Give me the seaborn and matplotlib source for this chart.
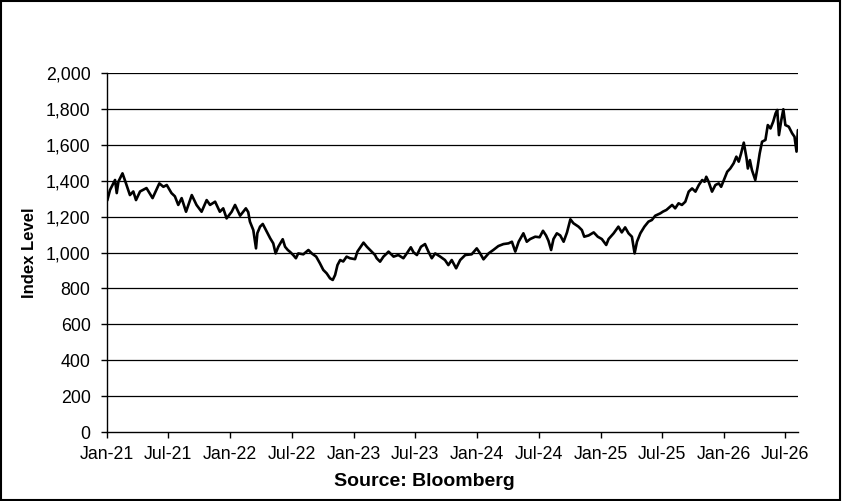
import pandas as pd
import matplotlib
matplotlib.use("Agg")
import matplotlib.pyplot as plt
import matplotlib.dates as mdates
from matplotlib.ticker import FuncFormatter, MultipleLocator
from matplotlib.patches import Rectangle
import seaborn as sns

# values (approximate)
dates = [
    "2021-01-02", "2021-01-10", "2021-01-25", "2021-01-30", "2021-02-04", "2021-02-16",
    "2021-02-26", "2021-03-10", "2021-03-20", "2021-03-28", "2021-04-09", "2021-04-28",
    "2021-05-16", "2021-06-05", "2021-06-17", "2021-06-27", "2021-07-11", "2021-07-21",
    "2021-07-31", "2021-08-10", "2021-08-23", "2021-09-09", "2021-09-23", "2021-10-08",
    "2021-10-23", "2021-11-02", "2021-11-17", "2021-12-01", "2021-12-11", "2021-12-21",
    "2022-01-05", "2022-01-15", "2022-01-30", "2022-02-16", "2022-02-23", "2022-02-28",
    "2022-03-10", "2022-03-18", "2022-03-22", "2022-03-30", "2022-04-07", "2022-04-19",
    "2022-04-29", "2022-05-08", "2022-05-15", "2022-05-23", "2022-06-05", "2022-06-12",
    "2022-06-20", "2022-06-27", "2022-07-06", "2022-07-14", "2022-07-21", "2022-08-05",
    "2022-08-20", "2022-08-30", "2022-09-12", "2022-09-23", "2022-10-03", "2022-10-13",
    "2022-10-23", "2022-10-31", "2022-11-07", "2022-11-14", "2022-11-22", "2022-12-01",
    "2022-12-11", "2022-12-21",
    "2023-01-05", "2023-01-12", "2023-01-30", "2023-02-09", "2023-02-23", "2023-03-05",
    "2023-03-10", "2023-03-20", "2023-03-30", "2023-04-09", "2023-04-14", "2023-04-29",
    "2023-05-13", "2023-05-28", "2023-06-07", "2023-06-19", "2023-06-27", "2023-07-07",
    "2023-07-19", "2023-07-31", "2023-08-10", "2023-08-20", "2023-08-30", "2023-09-14",
    "2023-09-28", "2023-10-08", "2023-10-18", "2023-10-31", "2023-11-12", "2023-11-27",
    "2023-12-16", "2023-12-31",
    "2024-01-10", "2024-01-20", "2024-02-04", "2024-02-18", "2024-03-04", "2024-03-19",
    "2024-04-03", "2024-04-13", "2024-04-23", "2024-05-03", "2024-05-17", "2024-05-27",
    "2024-06-06", "2024-06-21", "2024-07-04", "2024-07-14", "2024-07-23", "2024-07-30",
    "2024-08-07", "2024-08-14", "2024-08-24", "2024-09-03", "2024-09-13", "2024-09-23",
    "2024-10-03", "2024-10-12", "2024-10-27", "2024-11-06", "2024-11-13", "2024-11-26",
    "2024-12-11", "2024-12-23",
    "2025-01-04", "2025-01-17", "2025-01-24", "2025-02-08", "2025-02-22", "2025-03-04",
    "2025-03-14", "2025-03-24", "2025-04-03", "2025-04-11", "2025-04-18", "2025-04-28",
    "2025-05-10", "2025-05-22", "2025-06-01", "2025-06-11", "2025-06-26", "2025-07-04",
    "2025-07-14", "2025-07-31", "2025-08-09", "2025-08-19", "2025-08-29", "2025-09-08",
    "2025-09-18", "2025-09-28", "2025-10-08", "2025-10-18", "2025-10-28", "2025-11-04",
    "2025-11-09", "2025-11-16", "2025-11-26", "2025-12-06", "2025-12-16", "2025-12-23",
    "2025-12-31",
    "2026-01-10", "2026-01-19", "2026-01-29", "2026-02-06", "2026-02-13", "2026-02-20",
    "2026-02-28", "2026-03-08", "2026-03-12", "2026-03-18", "2026-03-24", "2026-04-03",
    "2026-04-10", "2026-04-16", "2026-04-23", "2026-05-03", "2026-05-10", "2026-05-18",
    "2026-05-26", "2026-06-02", "2026-06-07", "2026-06-12", "2026-06-19", "2026-06-25",
    "2026-07-01", "2026-07-11", "2026-07-21", "2026-07-28", "2026-08-03", "2026-08-07",
]

index_level = [
    1290, 1348, 1404, 1331, 1395, 1441,
    1387, 1320, 1340, 1292, 1340, 1359,
    1303, 1385, 1366, 1376, 1331, 1313,
    1265, 1303, 1227, 1320, 1265, 1227,
    1292, 1265, 1283, 1227, 1246, 1190,
    1227, 1265, 1205, 1246, 1225, 1172,
    1125, 1023, 1108, 1144, 1159, 1115,
    1079, 1051, 995, 1032, 1074, 1032,
    1014, 1003, 986, 968, 995, 990,
    1014, 995, 977, 940, 903, 884,
    856, 847, 875, 930, 958, 950,
    977, 968,
    963, 1005, 1055, 1032, 1005, 986,
    968, 949, 977, 995, 1005, 977,
    986, 968, 995, 1029, 1001, 986,
    1032, 1047, 1005, 968, 995, 977,
    958, 930, 958, 912, 958, 986,
    990, 1023,
    995, 962, 995, 1014, 1036, 1047,
    1051, 1060, 1005, 1060, 1107, 1060,
    1075, 1088, 1085, 1121, 1095, 1066,
    1014, 1075, 1107, 1095, 1060, 1112,
    1185, 1163, 1144, 1125, 1088, 1095,
    1112, 1088,
    1075, 1042, 1075, 1107, 1144, 1112,
    1140, 1107, 1088, 995, 1060, 1107,
    1144, 1172, 1181, 1205, 1218, 1228,
    1237, 1265, 1246, 1274, 1265, 1283,
    1339, 1357, 1339, 1376, 1404, 1394,
    1422, 1394, 1339, 1376, 1385, 1366,
    1404,
    1450, 1468, 1497, 1534, 1506, 1552,
    1612, 1527, 1468, 1515, 1460, 1404,
    1478, 1552, 1617, 1627, 1710, 1691,
    1729, 1775, 1794, 1654, 1738, 1798,
    1710, 1701, 1664, 1645, 1562, 1682,
]

x_start = "2021-01-01"
x_end = "2026-08-08"

df = pd.DataFrame({"date": pd.to_datetime(dates), "level": index_level})

sns.set_style("ticks")
plt.rcParams["font.family"] = ["Liberation Sans", "DejaVu Sans"]
plt.rcParams["text.color"] = "black"
plt.rcParams["axes.labelcolor"] = "black"

fig = plt.figure(figsize=(8.42, 5.01), dpi=100)
ax = fig.add_axes([0.127, 0.1377, 0.821, 0.7166])

# horizontal grid lines
for v in range(200, 2001, 200):
    ax.axhline(v, color="black", linewidth=0.9, zorder=1)

sns.lineplot(data=df, x="date", y="level", color="black", linewidth=1.9, ax=ax, zorder=3)

ax.set_ylim(0, 2000)
ax.set_xlim(pd.Timestamp(x_start), pd.Timestamp(x_end))
ax.yaxis.set_major_locator(MultipleLocator(200))
ax.yaxis.set_major_formatter(FuncFormatter(lambda v, p: f"{v:,.0f}"))
ax.xaxis.set_major_locator(mdates.MonthLocator(bymonth=[1, 7]))
ax.xaxis.set_major_formatter(mdates.DateFormatter("%b-%y"))

ax.tick_params(axis="both", direction="out", length=4.3, width=1, color="black",
               labelsize=12.8, labelcolor="black")
ax.tick_params(axis="y", pad=7.5)
ax.tick_params(axis="x", pad=6)

for side in ["top", "right"]:
    ax.spines[side].set_visible(False)
for side in ["left", "bottom"]:
    ax.spines[side].set_color("black")
    ax.spines[side].set_linewidth(1)

ax.set_ylabel("Index Level", fontsize=12, fontweight="bold", color="black")
ax.set_xlabel("Source: Bloomberg", fontsize=14, fontweight="bold", color="black")
ax.yaxis.set_label_coords(-0.101, 0.5)
ax.xaxis.set_label_coords(0.459, -0.114)

# frame around the whole chart
fig.patches.append(Rectangle((0.001, 0.002), 0.997, 0.996, transform=fig.transFigure,
                             fill=False, edgecolor="black", linewidth=1.5))

fig.savefig("out.png", dpi=100)
